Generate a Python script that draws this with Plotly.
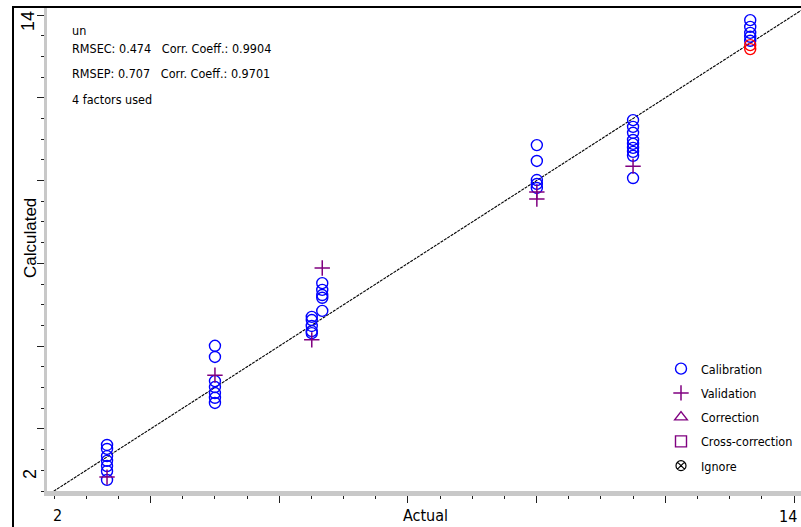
import plotly.graph_objects as go

# ---- data -------------------------------------------------------------
# Calibration standards: actual vs calculated
cal_actual = [2.86] * 7 + [4.61] * 7 + [6.18] * 5 + [6.35] * 5 + [9.83] * 5 + [11.39] * 9 + [13.29] * 5
cal_calc = [3.16, 3.06, 2.88, 2.76, 2.63, 2.50, 2.28,
            5.66, 5.38, 4.77, 4.62, 4.47, 4.35, 4.22,
            6.39, 6.31, 6.16, 6.03, 5.98,
            7.24, 7.07, 6.94, 6.87, 6.54,
            10.72, 10.32, 9.84, 9.74, 9.64,
            11.35, 11.18, 11.03, 10.85, 10.75, 10.65, 10.55, 10.45, 9.89,
            13.87, 13.70, 13.55, 13.45, 13.35]

# Validation standards
val_actual = [2.86, 4.61, 6.18, 6.35, 9.83, 9.83, 11.39]
val_calc = [2.35, 4.92, 5.81, 7.62, 9.54, 9.36, 10.19]

# Flagged standards (drawn in red, not in legend)
flag_actual = [13.29, 13.29]
flag_calc = [13.24, 13.14]

axis_min, axis_max = 2, 14
axis_labels = ["2", "14"]
stats_lines = ["un",
               "RMSEC: 0.474\u00a0\u00a0\u00a0Corr. Coeff.: 0.9904",
               "RMSEP: 0.707\u00a0\u00a0\u00a0Corr. Coeff.: 0.9701",
               "4 factors used"]

# ---- geometry helpers -------------------------------------------------
W, H = 801, 527
L, R, T, B = 47, 0, 7, 36
PW, PH = W - L - R, H - T - B
X_PX_PER_UNIT = 740 / 12
Y_PX_PER_UNIT = 476 / 12
x_range = [axis_min - 7 / X_PX_PER_UNIT, axis_min + 747 / X_PX_PER_UNIT]
y_range = [axis_min, axis_min + PH / Y_PX_PER_UNIT]


def px(x):
    return (x - L) / PW


def py(y):
    return (H - B - y) / PH


# tick marks: 23 steps between axis_min and axis_max, every 4th one long
step = (axis_max - axis_min) / 23
all_ticks = [axis_min + i * step for i in range(24)]
major_ticks = [all_ticks[i] for i in range(3, 24, 4)]
minor_ticks = [t for i, t in enumerate(all_ticks) if (i - 3) % 4 != 0]

NARROW = "DejaVu Sans Condensed, Liberation Sans Narrow, sans-serif"
REGULAR = "Liberation Sans, Arial, sans-serif"
BLUE = "#0000ff"
PURPLE = "#800080"

fig = go.Figure()

# identity line
fig.add_trace(go.Scatter(
    x=[x_range[0], x_range[1]], y=[x_range[0], x_range[1]],
    mode="lines", line=dict(color="#000000", width=1.1, dash="3px,1px"),
    showlegend=False, hoverinfo="skip"))

fig.add_trace(go.Scatter(
    x=cal_actual, y=cal_calc, mode="markers", name="Calibration",
    legendgroup="a",
    marker=dict(symbol="circle-open", size=11, color=BLUE, line=dict(width=1.4, color=BLUE))))

fig.add_trace(go.Scatter(
    x=flag_actual, y=flag_calc, mode="markers", showlegend=False,
    marker=dict(symbol="circle-open", size=11, color="#ff0000", line=dict(width=1.4, color="#ff0000"))))

fig.add_trace(go.Scatter(
    x=val_actual, y=val_calc, mode="markers", name="Validation",
    legendgroup="b",
    marker=dict(symbol="cross-thin-open", size=11, color=PURPLE, line=dict(width=1.5, color=PURPLE))))

fig.add_trace(go.Scatter(
    x=[None], y=[None], mode="markers", name="Correction", legendgroup="c",
    marker=dict(symbol="triangle-up-open", size=11, color=PURPLE, line=dict(width=1.4, color=PURPLE))))

fig.add_trace(go.Scatter(
    x=[None], y=[None], mode="markers", name="Cross-correction", legendgroup="d",
    marker=dict(symbol="square-open", size=11, color=PURPLE, line=dict(width=1.4, color=PURPLE))))

fig.add_trace(go.Scatter(
    x=[None], y=[None], mode="markers", name="Ignore", legendgroup="e",
    marker=dict(symbol="circle-x-open", size=10, color="#000000", line=dict(width=1.2, color="#000000"))))

axis_common = dict(
    showgrid=False, zeroline=False, showline=True, linecolor="#c8c8c8",
    ticks="outside", ticklen=7, tickwidth=1, tickcolor="#202020",
    tickmode="array", tickvals=major_ticks, showticklabels=False,
    minor=dict(tickmode="array", tickvals=minor_ticks, ticks="outside",
               ticklen=3, tickwidth=1, tickcolor="#202020"),
)

fig.update_xaxes(range=x_range, linewidth=5, **axis_common)
fig.update_yaxes(range=y_range, linewidth=3, **axis_common)

annotations = []
# statistics block
for text, yc in zip(stats_lines, [30.5, 48.5, 73.5, 99.5]):
    annotations.append(dict(text=text, x=px(70), y=py(yc), xref="paper", yref="paper",
                            xanchor="left", yanchor="middle", showarrow=False,
                            font=dict(family=NARROW, size=12.5, color="#000000")))
# x axis labels
annotations.append(dict(text=axis_labels[0], x=px(57), y=py(515), xref="paper", yref="paper",
                        xanchor="center", yanchor="middle", showarrow=False,
                        font=dict(family=NARROW, size=16, color="#000000")))
annotations.append(dict(text=axis_labels[1], x=px(799), y=py(516), xref="paper", yref="paper",
                        xanchor="right", yanchor="middle", showarrow=False,
                        font=dict(family=NARROW, size=16, color="#000000")))
annotations.append(dict(text="Actual", x=px(425), y=py(515), xref="paper", yref="paper",
                        xanchor="center", yanchor="middle", showarrow=False,
                        font=dict(family=NARROW, size=16, color="#000000")))
# y axis labels
annotations.append(dict(text=axis_labels[1], x=px(28), y=py(21), xref="paper", yref="paper",
                        xanchor="center", yanchor="middle", showarrow=False, textangle=-90,
                        font=dict(family=REGULAR, size=18, color="#000000")))
annotations.append(dict(text=axis_labels[0], x=px(30), y=py(474), xref="paper", yref="paper",
                        xanchor="center", yanchor="middle", showarrow=False, textangle=-90,
                        font=dict(family=REGULAR, size=18, color="#000000")))
annotations.append(dict(text="Calculated", x=px(30), y=py(238), xref="paper", yref="paper",
                        xanchor="center", yanchor="middle", showarrow=False, textangle=-90,
                        font=dict(family=REGULAR, size=17, color="#000000")))

shapes = [
    dict(type="line", xref="paper", yref="paper", x0=px(12), x1=px(W), y0=py(7), y1=py(7),
         line=dict(color="#000000", width=2)),
    dict(type="line", xref="paper", yref="paper", x0=px(13), x1=px(13), y0=py(6), y1=py(H),
         line=dict(color="#000000", width=2)),
]

fig.update_layout(
    width=W, height=H,
    margin=dict(l=L, r=R, t=T, b=B, pad=0),
    paper_bgcolor="#ffffff", plot_bgcolor="#ffffff",
    annotations=annotations, shapes=shapes,
    legend=dict(x=px(661), y=py(354), xanchor="left", yanchor="top",
                bgcolor="rgba(0,0,0,0)", borderwidth=0, tracegroupgap=5,
                traceorder="grouped",
                font=dict(family=NARROW, size=12.5, color="#000000")),
    showlegend=True,
)

fig.write_html("out.html")
